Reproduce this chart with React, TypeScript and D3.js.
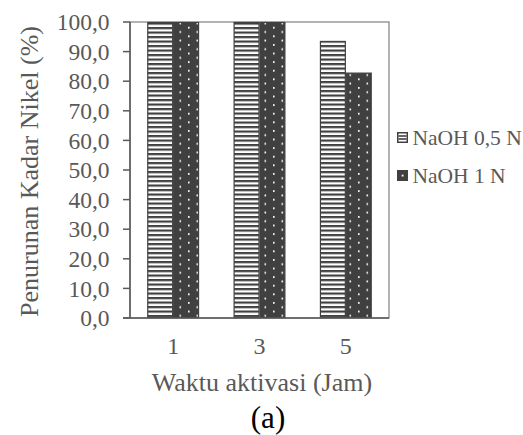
import React from "react";
import * as d3 from "d3";

const categories = ["1", "3", "5"];
const seriesNames = ["NaOH 0,5 N", "NaOH 1 N"];
const naoh05 = [100, 100, 93.6];
const naoh1 = [100, 100, 82.9];
const yTicks = [0, 10, 20, 30, 40, 50, 60, 70, 80, 90, 100];

const W = 523;
const H = 435;
const plot = { left: 130, top: 22, right: 389, bottom: 318 };
const textColor = "#595959";
const barColor = "#404040";
const font = "Liberation Serif, Times New Roman, Times, serif";

export default function App() {
  const x0 = d3
    .scaleBand<string>()
    .domain(categories)
    .range([plot.left, plot.right])
    .paddingInner(0.4)
    .paddingOuter(0.2);
  const x1 = d3.scaleBand<string>().domain(seriesNames).range([0, x0.bandwidth()]);
  const y = d3.scaleLinear().domain([0, 100]).range([plot.bottom, plot.top]);
  const fmt = (v: number) => d3.format(".1f")(v).replace(".", ",");
  const series = [naoh05, naoh1];
  const fills = ["url(#hstripe)", "url(#dots)"];
  const ts = { fontFamily: font };

  return (
    <svg
      width={W}
      height={H}
      style={{ position: "absolute", left: 0, top: 0, background: "#fff", fontFamily: font }}
    >
      <defs>
        <pattern id="hstripe" patternUnits="userSpaceOnUse" width={8} height={4.5}>
          <rect width={8} height={4.5} fill="#fff" />
          <rect y={0} width={8} height={2.2} fill={barColor} />
        </pattern>
        <pattern id="dots" patternUnits="userSpaceOnUse" width={17} height={8.6}>
          <rect width={17} height={8.6} fill={barColor} />
          <rect x={1} y={1} width={1.6} height={1.8} fill="#fff" />
          <rect x={9.5} y={5.3} width={1.6} height={1.8} fill="#fff" />
        </pattern>
      </defs>

      {/* plot frame */}
      <rect
        x={plot.left}
        y={plot.top}
        width={plot.right - plot.left}
        height={plot.bottom - plot.top}
        fill="none"
        stroke="#808080"
        strokeWidth={1.2}
      />

      {/* bars */}
      {series.map((vals, si) =>
        categories.map((c, ci) => {
          const bx = (x0(c) as number) + (x1(seriesNames[si]) as number);
          const by = y(vals[ci]);
          return (
            <rect
              key={`${si}-${ci}`}
              x={bx + 0.5}
              y={by + 0.5}
              width={x1.bandwidth() - 1}
              height={plot.bottom - by - 1}
              fill={fills[si]}
              stroke={barColor}
              strokeWidth={1.2}
            />
          );
        })
      )}

      {/* y axis */}
      <line x1={plot.left} x2={plot.left} y1={plot.top} y2={plot.bottom} stroke={textColor} strokeWidth={1.5} />
      {yTicks.map((t) => (
        <g key={t}>
          <line x1={plot.left - 7} x2={plot.left} y1={y(t)} y2={y(t)} stroke={textColor} strokeWidth={1.5} />
          <text x={109.5} y={y(t)} dy="0.35em" textAnchor="end" fontSize={23.5} fill={textColor} style={ts}>
            {fmt(t)}
          </text>
        </g>
      ))}

      {/* x axis */}
      <line x1={plot.left - 7} x2={plot.right} y1={plot.bottom} y2={plot.bottom} stroke={textColor} strokeWidth={1.5} />
      {categories.map((c) => (
        <text
          key={c}
          x={(x0(c) as number) + x0.bandwidth() / 2}
          y={354}
          textAnchor="middle"
          fontSize={24}
          fill={textColor}
          style={ts}
        >
          {c}
        </text>
      ))}

      <text x={262} y={390.5} textAnchor="middle" fontSize={26} fill={textColor} style={ts}>
        Waktu aktivasi (Jam)
      </text>
      <text
        transform="translate(37.5,171.5) rotate(-90)"
        textAnchor="middle"
        fontSize={26}
        fill={textColor}
        style={ts}
      >
        Penurunan Kadar Nikel (%)
      </text>
      <text x={268} y={427.5} textAnchor="middle" fontSize={31} fill="#000" style={ts}>
        (a)
      </text>

      {/* legend */}
      {seriesNames.map((n, i) => (
        <g key={n} transform={`translate(397,${132 + i * 38})`}>
          {i === 0 ? (
            <g>
              <rect x={0.75} y={0.75} width={9.5} height={9.5} fill="#fff" stroke={barColor} strokeWidth={1.5} />
              <rect x={1.5} y={3.2} width={8} height={1.6} fill={barColor} />
              <rect x={1.5} y={6.2} width={8} height={1.6} fill={barColor} />
            </g>
          ) : (
            <g>
              <rect x={0} y={0} width={11} height={11} fill={barColor} />
              <rect x={4.7} y={4.7} width={1.8} height={1.8} fill="#fff" />
            </g>
          )}
          <text x={15.5} y={13} fontSize={21.5} fill={textColor} style={ts}>
            {n}
          </text>
        </g>
      ))}
    </svg>
  );
}
